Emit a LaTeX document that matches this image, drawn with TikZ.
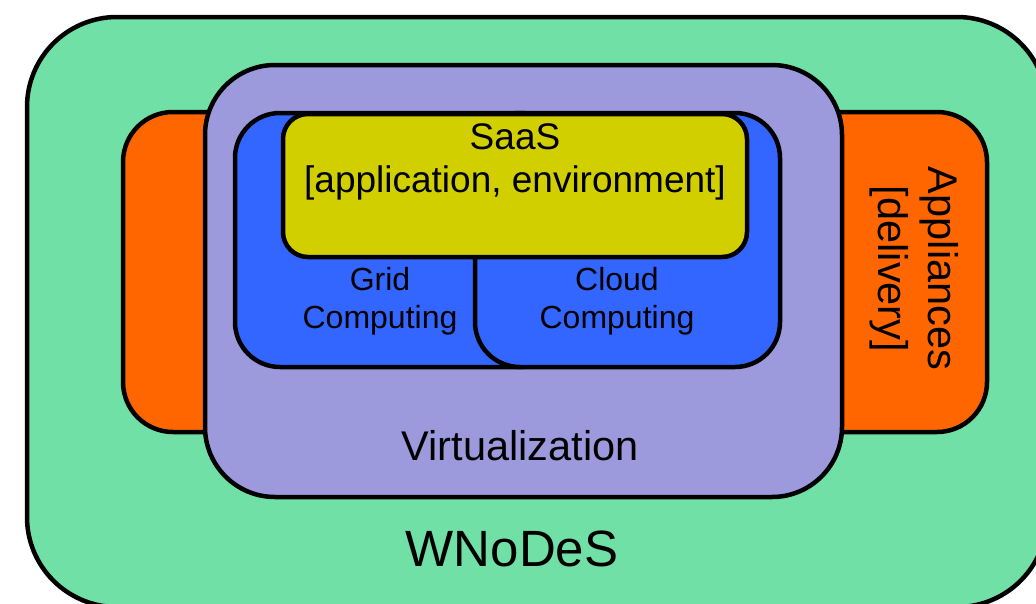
\documentclass[tikz,border=0pt]{standalone}
\usepackage{fontspec}
\setmainfont{Liberation Sans}
\definecolor{cgreen}{HTML}{70E0A7}
\definecolor{corange}{HTML}{FF6600}
\definecolor{clav}{HTML}{9C9ADD}
\definecolor{cblue}{HTML}{3366FF}
\definecolor{cyell}{HTML}{D1CF00}
\begin{document}
\begin{tikzpicture}[x=1pt,y=-1pt,
  box/.style={draw=black, line width=4.5pt, rectangle, inner sep=0pt, outer sep=0pt},
  lbl/.style={anchor=base, inner sep=0pt, text=black}]
\useasboundingbox (0,0) rectangle (1036,603);
\clip (0,0) rectangle (1036,603);
\node[box, fill=cgreen, rounded corners=90pt, minimum width=1020pt, minimum height=590pt] (wnodes) at (537,312) {};
\node[box, fill=corange, rounded corners=50pt, minimum width=864pt, minimum height=320pt] (appl) at (555,272) {};
\node[box, fill=clav, rounded corners=70pt, minimum width=637pt, minimum height=432pt] (virt) at (523.5,281) {};
\node[box, fill=cblue, rounded corners=45pt, minimum width=330pt, minimum height=254pt] (grid) at (400,240) {};
\node[box, fill=cblue, rounded corners=45pt, minimum width=305pt, minimum height=254pt] (cloud) at (627.5,240) {};
\node[box, fill=cyell, rounded corners=25pt, minimum width=464pt, minimum height=143pt] (saas) at (515,185.5) {};
% texts
\node[lbl, font=\fontsize{37}{44}\selectfont] (t1) at (515,149) {SaaS};
\node[lbl, font=\fontsize{37}{44}\selectfont] (t2) at (515,192) {[application, environment]};
\node[lbl, font=\fontsize{32}{38}\selectfont] (g1) at (380,290) {Grid};
\node[lbl, font=\fontsize{32}{38}\selectfont] (g2) at (380,328) {Computing};
\node[lbl, font=\fontsize{32}{38}\selectfont] (c1) at (617,290) {Cloud};
\node[lbl, font=\fontsize{32}{38}\selectfont] (c2) at (617,328) {Computing};
\node[lbl, font=\fontsize{41.5}{48}\selectfont] (v) at (520,460) {Virtualization};
\node[lbl, font=\fontsize{51}{60}\selectfont] (w) at (512,566) {WNoDeS};
\node[lbl, rotate=-90, font=\fontsize{41.5}{48}\selectfont] (a1) at (928,268.5) {Appliances};
\node[lbl, rotate=-90, font=\fontsize{41.5}{48}\selectfont] (a2) at (878,269) {[delivery]};
\end{tikzpicture}
\end{document}
